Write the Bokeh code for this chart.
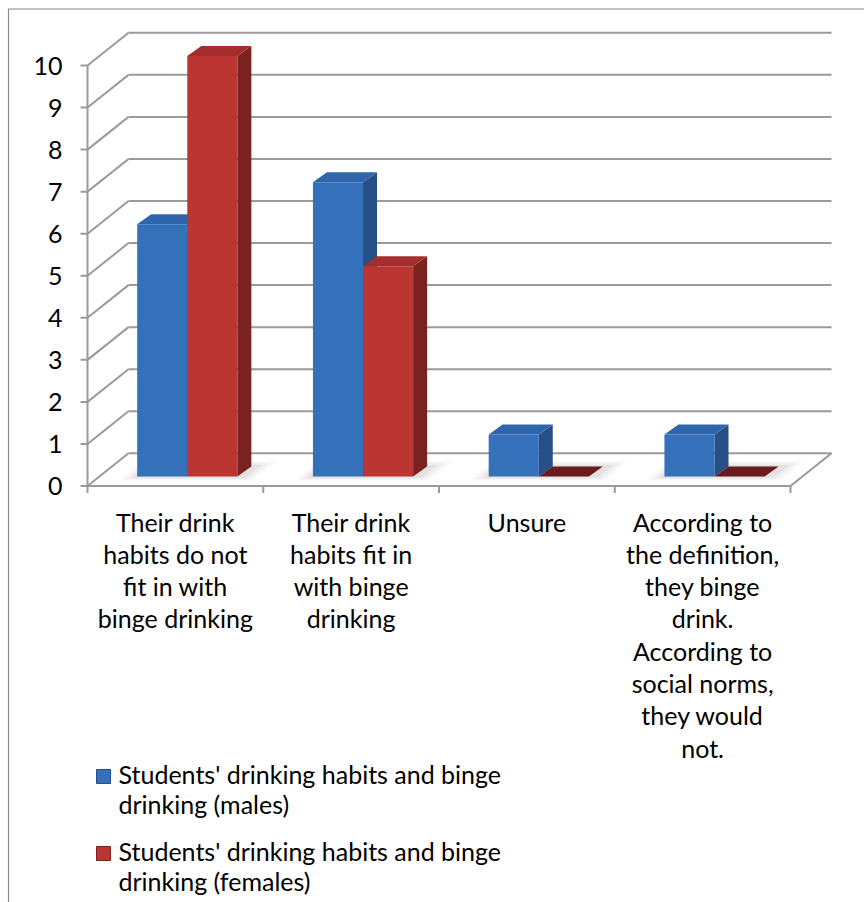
from bokeh.plotting import figure
from bokeh.models import Range1d, ColumnDataSource
from bokeh.core.properties import value
from bokeh.embed import file_html
from bokeh.resources import INLINE

# ---- data -------------------------------------------------------------
categories = [
    "Their drink\nhabits do not\nfit in with\nbinge drinking",
    "Their drink\nhabits fit in\nwith binge\ndrinking",
    "Unsure",
    "According to\nthe definition,\nthey binge\ndrink.\nAccording to\nsocial norms,\nthey would\nnot.",
]
males = [6, 7, 1, 1]
females = [10, 5, 0, 0]
series_names = [
    "Students' drinking habits and binge\ndrinking (males)",
    "Students' drinking habits and binge\ndrinking (females)",
]
y_ticks = [0, 1, 2, 3, 4, 5, 6, 7, 8, 9, 10]
y_tick_labels = [str(t) for t in y_ticks]

# ---- layout / style ---------------------------------------------------
W, H = 864, 902
ORIGIN_PX, ORIGIN_PY = 87.0, 485.5      # front-left corner of the floor
PX_PER_CAT, PX_PER_UNIT = 175.75, 42.05
FONT = "Lato"
FONT_SIZE = "25px"

def sx(px):   # horizontal screen offset -> category units
    return px / PX_PER_CAT

def sy(py):   # vertical screen offset -> value units
    return py / PX_PER_UNIT

def at_x(px):
    return (px - ORIGIN_PX) / PX_PER_CAT

def at_y(py):
    return (ORIGIN_PY - py) / PX_PER_UNIT

WALL_DX, WALL_DY = sx(41), sy(32.7)     # depth of the floor / side wall
BAR_W = 0.285                            # width of one bar in category units
BAR_POS = 0.29                           # where the bars stand along the floor depth
BAR_DX, BAR_DY = sx(14), sy(10)          # depth of a bar
GRID = "#9a9a9a"

series = [
    dict(vals=males, front="#3571ba", side="#264f87", top="#2f65ab", name=series_names[0]),
    dict(vals=females, front="#bb3633", side="#7a2220", top="#a32e2c", name=series_names[1]),
]

n = len(categories)

p = figure(width=W, height=H, x_range=Range1d(at_x(0), at_x(W)), y_range=Range1d(at_y(H), at_y(0)),
           x_axis_type=None, y_axis_type=None, min_border=0, toolbar_location=None,
           output_backend="svg", background_fill_color="white", border_fill_color="white")
p.outline_line_color = None

# outer chart border
p.line([at_x(8), at_x(8), at_x(W)], [at_y(H), at_y(8.5), at_y(8.5)], line_color="#8a8a8a", line_width=1.2)

# back wall gridlines and side wall diagonals
p.segment(x0=[WALL_DX] * len(y_ticks), y0=[t + WALL_DY for t in y_ticks],
          x1=[n + WALL_DX] * len(y_ticks), y1=[t + WALL_DY for t in y_ticks],
          line_color=GRID, line_width=2)
p.segment(x0=[0] * len(y_ticks), y0=y_ticks, x1=[WALL_DX] * len(y_ticks), y1=[t + WALL_DY for t in y_ticks],
          line_color=GRID, line_width=2)

# floor front and right edges
p.segment(x0=[0, n], y0=[0, 0], x1=[n, n + WALL_DX], y1=[0, WALL_DY], line_color=GRID, line_width=2)

# front value axis with ticks and labels
p.segment(x0=[0], y0=[0], x1=[0], y1=[max(y_ticks)], line_color=GRID, line_width=2)
p.segment(x0=[-sx(7)] * len(y_ticks), y0=y_ticks, x1=[0] * len(y_ticks), y1=y_ticks, line_color=GRID, line_width=2)
p.text(x=[-sx(25)] * len(y_ticks), y=y_ticks, text=y_tick_labels, text_align="right", text_baseline="middle",
       text_font=value(FONT), text_font_size=FONT_SIZE, text_color="black")

# category ticks along the floor front edge
p.segment(x0=list(range(n + 1)), y0=[0] * (n + 1), x1=list(range(n + 1)), y1=[-sy(7)] * (n + 1),
          line_color=GRID, line_width=2)

# soft shadows on the floor under each group
base_x = BAR_POS * WALL_DX
base_y = BAR_POS * WALL_DY
for grow, alpha in [(14, 0.05), (9, 0.07), (4, 0.09)]:
    xs, ys = [], []
    for i in range(n):
        gl = i + 0.5 + base_x - BAR_W - sx(grow)
        gr = i + 0.5 + base_x + BAR_W + sx(grow + 6)
        yb = base_y - sy(grow * 0.3)
        yt = base_y + BAR_DY + sy(grow * 0.4)
        dxb = (yb - base_y) / WALL_DY * WALL_DX
        dxt = (yt - base_y) / WALL_DY * WALL_DX
        xs.append([gl + dxb, gr + dxb, gr + dxt, gl + dxt])
        ys.append([yb, yb, yt, yt])
    p.patches(xs, ys, fill_color="#707070", fill_alpha=alpha, line_color=None)

# 3-D columns: side face, top face, front face
for k, s in enumerate(series):
    left = [i + 0.5 + base_x - BAR_W + k * BAR_W for i in range(n)]
    right = [l + BAR_W for l in left]
    tops = [base_y + v for v in s["vals"]]
    side_xs = [[r, r + BAR_DX, r + BAR_DX, r] for r in right]
    side_ys = [[base_y, base_y + BAR_DY, t + BAR_DY, t] for t in tops]
    top_xs = [[l, r, r + BAR_DX, l + BAR_DX] for l, r in zip(left, right)]
    top_ys = [[t, t, t + BAR_DY, t + BAR_DY] for t in tops]
    top_cols = [s["top"] if v > 0 else "#6a1b1b" for v in s["vals"]]
    p.patches(side_xs, side_ys, fill_color=s["side"], line_color=None)
    p.patches(xs="xs", ys="ys", fill_color="c", line_color=None,
              source=ColumnDataSource(dict(xs=top_xs, ys=top_ys, c=top_cols)))
    p.quad(left=left, right=right, bottom=[base_y] * n, top=tops, fill_color=s["front"], line_color=None)

# category labels
LINE_PX = 32.3
lx, ly, lt = [], [], []
for i, cat in enumerate(categories):
    for j, line in enumerate(cat.split("\n")):
        lx.append(i + 0.5)
        ly.append(at_y(521 + j * LINE_PX))
        lt.append(line)
p.text(x=lx, y=ly, text=lt, text_align="center", text_baseline="alphabetic",
       text_font=value(FONT), text_font_size=FONT_SIZE, text_color="black")

# legend
LEG_TOP = 773
LEG_STEP = 77
LEG_LINE = 30.5
for k, s in enumerate(series):
    base = LEG_TOP + k * LEG_STEP
    p.scatter(x=[at_x(103)], y=[at_y(base + 3)], marker="square", size=14,
              fill_color=s["front"], line_color=s["side"], line_width=1)
    lines = s["name"].split("\n")
    p.text(x=[at_x(118)] * len(lines), y=[at_y(base + j * LEG_LINE) for j in range(len(lines))], text=lines,
           text_align="left", text_baseline="alphabetic",
           text_font=value(FONT), text_font_size=FONT_SIZE, text_color="black")

open("out.html", "w").write(file_html(p, INLINE))
